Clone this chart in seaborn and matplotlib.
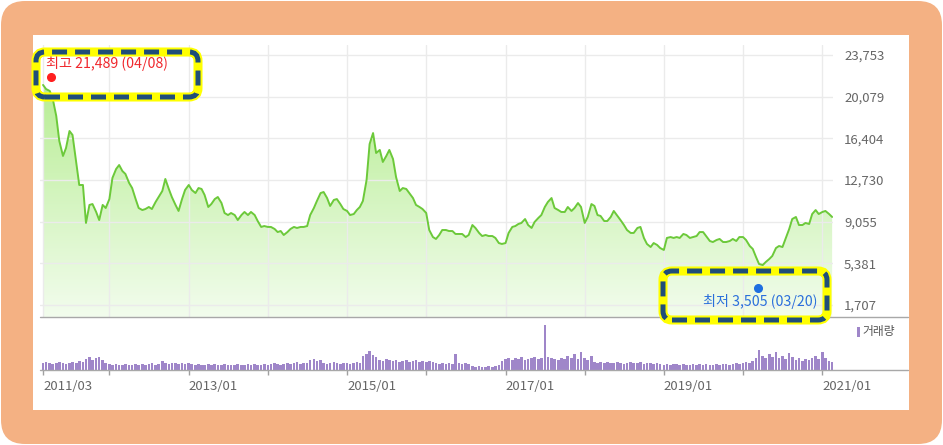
import numpy as np
import pandas as pd
import matplotlib
matplotlib.use("Agg")
import matplotlib.pyplot as plt
import matplotlib.dates as mdates
import seaborn as sns
from matplotlib.patches import FancyBboxPatch, Rectangle
from matplotlib.transforms import IdentityTransform, offset_copy
from matplotlib.lines import Line2D

# ---------------- data ----------------
# semi-monthly closes (1st and 15th), 2011-03-01 .. 2021-02-15
dates = pd.date_range("2011-03-01", periods=240, freq="SMS")
price = [
    21110, 20750, 20580, 19870, 18370, 16170, 14850, 15550, 17050, 16700,
    14320, 12290, 12290, 8940, 10530, 10610, 9910, 9200, 10530, 10260,
    11050, 12910, 13700, 14050, 13520, 13260, 12470, 12020, 11050, 10260,
    10080, 10170, 10350, 10170, 10790, 11230, 11760, 12820, 11940, 11230,
    10530, 10000, 11050, 11850, 12290, 11850, 11580, 12020, 11940, 11410,
    10350, 10610, 11050, 11230, 10700, 9820, 9640, 9820, 9640, 9200,
    9640, 9910, 9640, 9910, 9640, 9110, 8590, 8670, 8590, 8590,
    8410, 8140, 8230, 7880, 8140, 8410, 8590, 8500, 8590, 8590,
    8670, 9640, 10260, 10880, 11580, 11670, 11140, 10440, 10970, 11050,
    10610, 10170, 10000, 9640, 9730, 10080, 10350, 10880, 12730, 15900,
    16870, 15110, 15380, 14320, 14850, 15380, 14580, 12990, 11760, 12020,
    11940, 11580, 11140, 10530, 10350, 10170, 9820, 8320, 7700, 7530,
    7880, 8320, 8320, 8230, 8230, 7970, 7970, 7970, 7700, 7880,
    8760, 8500, 8060, 7790, 7880, 7790, 7790, 7620, 7170, 7090,
    7170, 8060, 8590, 8670, 8850, 8940, 9290, 8760, 8500, 9030,
    9380, 9640, 10350, 10790, 11140, 10260, 10080, 9910, 9910, 10350,
    10000, 10260, 10700, 10350, 8940, 9470, 10610, 10440, 9640, 9560,
    9110, 9110, 9470, 10000, 9560, 9200, 8760, 8320, 8060, 8060,
    8500, 8590, 7620, 7090, 6820, 7170, 7000, 6730, 6560, 7620,
    7700, 7620, 7700, 7620, 7970, 7880, 7620, 7700, 7790, 8140,
    8140, 7790, 7350, 7260, 7440, 7530, 7260, 7260, 7350, 7530,
    7350, 7700, 7700, 7440, 6910, 6650, 5940, 5320, 5230, 5500,
    5760, 6030, 6730, 6910, 6820, 7530, 8410, 9290, 9470, 8760,
    8760, 8940, 8850, 9730, 10080, 9730, 9910, 10000, 9730, 9470,
]
# volume (arbitrary units, 만주)
volume = [
    7, 8, 7, 6, 7, 8, 7, 6, 7, 8, 7, 9, 8,
    11, 13, 10, 12, 13, 10,
    7, 6, 5, 6, 5, 5, 6, 5, 5, 6, 5, 6, 5, 6, 7, 5, 6, 9,
    7, 6, 7, 7, 6, 7, 6, 7,
    6, 5, 6, 5, 5, 6, 5, 6, 5, 5, 6, 5, 5, 5, 6, 5, 5, 6, 5, 6,
    5, 5, 6, 5, 6, 7, 6, 5, 6, 7, 6, 7, 8, 6, 7, 7,
    10, 11, 9, 10,
    7, 6, 7, 8, 7, 6, 7, 7, 6, 7, 8, 7,
    14, 16, 19, 15, 13,
    10, 9, 11, 10, 9, 10, 8, 9, 10, 8, 9, 10, 8, 9, 8, 9, 8,
    7, 6, 7, 6, 7, 6,
    16,
    7, 6, 7, 6,
    4, 3, 4, 3, 3, 4, 3, 4, 5,
    9, 11, 12, 10, 12, 11, 13, 10, 11, 12, 13, 11, 12,
    45,
    13, 12, 11, 10, 12, 11, 14, 12, 16, 11, 18, 12, 10, 14,
    8, 7, 8, 7, 8, 7, 7, 8, 7, 6, 7, 8, 7, 7, 8, 6, 7, 7, 6, 7,
    6, 5, 6, 5, 6, 6, 5, 6, 5, 5, 6, 5, 6, 5, 6, 5, 5, 6, 5, 6,
    6, 5, 6, 7, 6, 7, 8, 7, 9,
    12, 20, 14, 12, 16, 13, 18, 12, 14, 11, 17, 13, 10, 12, 9, 11,
    10, 12, 14, 11, 18, 12, 9, 8,
]
y_ticks = [1707, 5381, 9055, 12730, 16404, 20079, 23753]
x_tick_dates = ["2011-03-01", "2012-01-01", "2013-01-01", "2014-01-01", "2015-01-01",
                "2016-01-01", "2017-01-01", "2018-01-01", "2019-01-01", "2020-01-01",
                "2021-01-01"]
x_tick_labels = ["2011/03", "", "2013/01", "", "2015/01", "", "2017/01", "",
                 "2019/01", "", "2021/01"]
high_date, high_value, high_label = "2011-04-08", 21489, "최고 21,489 (04/08)"
low_date, low_value, low_label = "2020-03-20", 3505, "최저 3,505 (03/20)"
legend_label = "거래량"

# ---------------- style ----------------
W, H = 943, 445
sns.set_theme(style="white")
plt.rcParams["font.family"] = ["Noto Sans CJK KR", "DejaVu Sans"]

LINE = "#6cc93a"
VOL = "#9f86c9"
GRID = "#ebebeb"
TXT = "#666666"

fig = plt.figure(figsize=(W / 100, H / 100), dpi=100)
fig.patch.set_facecolor("white")
px = IdentityTransform()

# frame
fig.add_artist(FancyBboxPatch((1, 1), W - 2, H - 2,
                              boxstyle="round,pad=0,rounding_size=24",
                              fc="#F4B183", ec="none", transform=px, zorder=-20))
fig.add_artist(Rectangle((33, H - 410), 909 - 33, 410 - 35, fc="white", ec="none",
                         transform=px, zorder=-19))

ax = fig.add_axes([40 / W, 1 - 317 / H, 793 / W, 272 / H])
axv = fig.add_axes([40 / W, 1 - 370 / H, 793 / W, 50 / H], sharex=ax)
for a in (ax, axv):
    a.set_facecolor("none")
    for s in a.spines.values():
        s.set_visible(False)

ybot, ytop = 649, 24634
xmin = dates[0] - pd.Timedelta(days=14)
xmax = dates[-1] + pd.Timedelta(days=4)

# price line
sns.lineplot(x=dates, y=price, ax=ax, color=LINE, linewidth=1.4, zorder=4)

# gradient fill under line
poly = ax.fill_between(dates, price, ybot, facecolor="none", edgecolor="none")
g = np.linspace(0, 1, 256)[:, None, None]
top_c = np.array([0.72, 0.93, 0.58])
bot_c = np.array([0.95, 0.99, 0.93])
img = top_c * (1 - g) + bot_c * g
xn = mdates.date2num(dates)
im = ax.imshow(img, extent=[xn[0] - 30, xn[-1] + 30, ybot, max(price)],
               aspect="auto", origin="upper", zorder=1, interpolation="bilinear")
im.set_clip_path(poly.get_paths()[0], transform=ax.transData)

ax.set_xlim(xmin, xmax)
ax.set_ylim(ybot, ytop)
ax.set_yticks(y_ticks)
ax.set_yticklabels([f"{v:,}" for v in y_ticks])
ax.yaxis.tick_right()
ax.tick_params(axis="y", length=0, pad=8, labelsize=9.5, labelcolor=TXT)
ax.set_xlabel("")
ax.set_ylabel("")
ax.grid(True, color=GRID, linewidth=1)
ax.set_axisbelow(False)
for gl in ax.get_xgridlines() + ax.get_ygridlines():
    gl.set_zorder(2)

# volume
axv.bar(dates, volume, width=12, color=VOL, linewidth=0)
axv.set_ylim(0, 50)
axv.set_yticks([])
axv.set_xticks(pd.to_datetime(x_tick_dates))
axv.set_xticklabels(x_tick_labels, ha="left")
axv.tick_params(axis="x", direction="out", length=3.6, width=1, color="#a0a0a0",
                pad=3.5, labelsize=9.5, labelcolor=TXT, bottom=True)
ax.tick_params(axis="x", labelbottom=False, length=0)
axv.set_xlim(xmin, xmax)

# separators
for yy in (317, 370):
    fig.add_artist(Line2D([40, 908], [H - yy, H - yy], color="#a8a8a8", lw=1,
                          transform=px, zorder=5))

# legend
fig.add_artist(Rectangle((857, H - 337), 3, 10, fc=VOL, ec="none", transform=px))
fig.text(862 / W, 1 - 332 / H, legend_label, ha="left", va="center",
         fontsize=8.5, color="#555555")

# high / low markers
hd, ld = pd.Timestamp(high_date), pd.Timestamp(low_date)
ax.plot([hd], [high_value], "o", color="#ff1f1f", ms=5.5, zorder=6,
        transform=offset_copy(ax.transData, fig, x=0, y=4, units="dots"))
ax.plot([ld], [low_value], "o", color="#1e6fe0", ms=5.5, zorder=6, clip_on=False,
        transform=offset_copy(ax.transData, fig, x=-2, y=-3, units="dots"))
ax.annotate(high_label, xy=(hd, high_value), xytext=(-5, 17),
            textcoords="offset pixels", ha="left", va="center",
            fontsize=10.2, color="#f0282d", zorder=7)
ax.annotate(low_label, xy=(ld, low_value), xytext=(57, -17),
            textcoords="offset pixels", ha="right", va="center",
            fontsize=10.2, color="#2a6fdb", zorder=7, annotation_clip=False)


def dashed_box(x0, y0, x1, y1):
    for lw, ls, col in [(6.5, "solid", "#ffff00"), (3.6, (0, (3.0, 1.6)), "#1f4e79")]:
        fig.add_artist(FancyBboxPatch((x0, H - y1), x1 - x0, y1 - y0,
                                      boxstyle="round,pad=0,rounding_size=9",
                                      fc="none", ec=col, lw=lw, ls=ls,
                                      transform=px, zorder=10))


dashed_box(36, 52, 198, 97)
dashed_box(663, 271, 827, 320)

fig.savefig("out.png", dpi=100, facecolor=fig.get_facecolor())
